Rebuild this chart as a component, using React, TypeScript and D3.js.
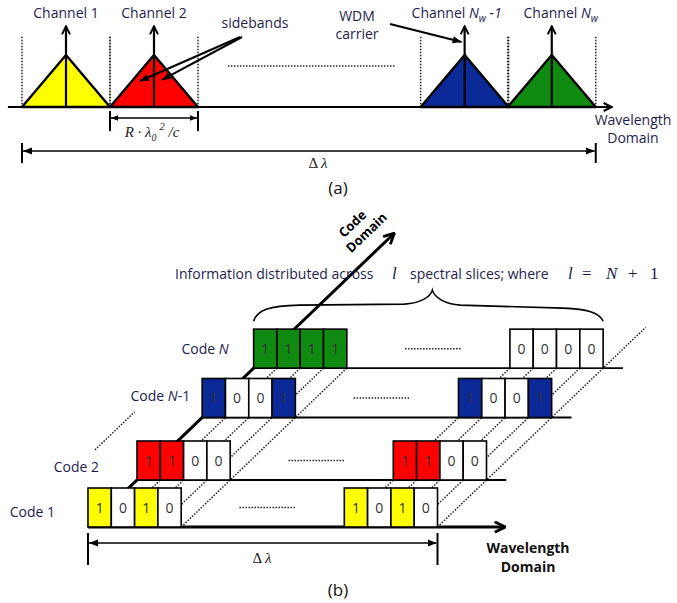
import React from 'react'
import * as d3 from 'd3'

// ---- (a) wavelength spectrum ----
const channelLabels = ['Channel 1', 'Channel 2', 'Channel N_w -1', 'Channel N_w']
const channelSlots = [0, 1, 4.53, 5.52]
const channelColors = ['#ffff00', '#ff0000', '#0b2a98', '#118a11']

// ---- (b) code rows ----
const codeLabels = ['Code 1', 'Code 2', 'Code N-1', 'Code N']
const codeDepths = [0, 1, 2.33, 3.38]
const leftBits = [[1, 0, 1, 0], [1, 1, 0, 0], [1, 0, 0, 1], [1, 1, 1, 1]]
const rightBits = [[1, 0, 1, 0], [1, 1, 0, 0], [1, 0, 0, 1], [0, 0, 0, 0]]
const codeColors = ['#ffff00', '#ff0000', '#0b2a98', '#118a11']
const leftSlots = [0, 1, 2, 3]
const rightSlots = [11, 12, 13, 14]
const sliceBounds = [1, 2, 3, 4, 11, 12, 13, 14, 15]

const W = 677
const H = 603
const ink = '#1d1d4d'
const sans = '"Open Sans", Lato, sans-serif'
const serif = '"Liberation Serif", "DejaVu Serif", serif'
const fs = 14

// label nudges (layout only)
const channelShift = [0, 0, -8, 9]
const codeLabelGap = [33, 38, 12, 25]
const codeLabelDy = [9.5, 11.5, 3.5, 5.5]

function ChannelLabel({ text, x, y }: { text: string; x: number; y: number }) {
  const m = text.match(/^(Channel )N_(\w)(.*)$/)
  if (!m) {
    return <text x={x} y={y} textAnchor="middle" fill={ink} fontSize={fs} fontFamily={sans}>{text}</text>
  }
  return (
    <text x={x} y={y} textAnchor="middle" fill={ink} fontSize={fs} fontFamily={sans}>
      {m[1]}
      <tspan fontStyle="italic">N</tspan>
      <tspan fontStyle="italic" fontSize={10} dy={4}>{m[2]}</tspan>
      <tspan fontStyle="italic" dy={-4}>{m[3]}</tspan>
    </text>
  )
}

function CodeLabel({ text, x, y }: { text: string; x: number; y: number }) {
  const parts = text.split(/(N)/)
  return (
    <text x={x} y={y} textAnchor="end" fill={ink} fontSize={fs} fontFamily={sans}>
      {parts.map((p, i) => p === 'N'
        ? <tspan key={i} fontStyle="italic">N</tspan>
        : <tspan key={i}>{p}</tspan>)}
    </text>
  )
}

export default function App() {
  // (a) scales
  const xA = d3.scaleLinear().domain([0, 1]).range([66, 154])
  const yA = d3.scaleLinear().domain([0, 1]).range([107, 55])
  const halfW = 44
  const base = yA(0)
  const line = d3.line<[number, number]>()

  const chX = channelSlots.map(s => xA(s))
  const firstEdge = chX[0] - halfW
  const lastEdge = chX[chX.length - 1] + halfW

  // (b) scales
  const xB = d3.scaleLinear().domain([0, 1]).range([88, 111.3])
  const depthX = d3.scaleLinear().domain([0, 1]).range([0, 49])
  const depthY = d3.scaleLinear().domain([0, 1]).range([527, 480])
  const rowH = 39
  const pt = (slot: number, depth: number, lift = 0): [number, number] =>
    [xB(slot) + depthX(depth), depthY(depth) - lift]
  const boxW = xB(1) - xB(0)
  const topDepth = codeDepths[codeDepths.length - 1]

  // brace over top row
  const [bx0, by0] = pt(0, topDepth, rowH + 8)
  const [bx1] = pt(15, topDepth, rowH + 8)
  const bm = (bx0 + bx1) / 2 + 4
  const bracePath = d3.path()
  bracePath.moveTo(bx0, by0)
  bracePath.bezierCurveTo(bx0 + 4, by0 - 12, bx0 + 16, by0 - 15, bx0 + 46, by0 - 16)
  bracePath.lineTo(bm - 28, by0 - 17)
  bracePath.bezierCurveTo(bm - 12, by0 - 18, bm - 2, by0 - 24, bm, by0 - 31)
  bracePath.bezierCurveTo(bm + 2, by0 - 24, bm + 12, by0 - 17, bm + 28, by0 - 16)
  bracePath.lineTo(bx1 - 40, by0 - 13)
  bracePath.bezierCurveTo(bx1 - 16, by0 - 12, bx1 - 4, by0 - 9, bx1, by0)

  const axisTip = pt(0, 6.25)
  const dLy = depthY(0) + 16

  return (
    <svg width={W} height={H} style={{ position: 'absolute', left: 0, top: 0, background: '#fff' }}>
      <defs>
        <marker id="chev" viewBox="0 0 10 10" refX="9" refY="5" markerWidth="10" markerHeight="10"
          markerUnits="userSpaceOnUse" orient="auto-start-reverse">
          <path d="M1,1L9,5L1,9" fill="none" stroke="#000" strokeWidth={2} />
        </marker>
        <marker id="tri" viewBox="0 0 10 10" refX="10" refY="5" markerWidth="9" markerHeight="9"
          markerUnits="userSpaceOnUse" orient="auto-start-reverse">
          <path d="M0,1L10,5L0,9z" fill="#000" />
        </marker>
        <marker id="triS" viewBox="0 0 10 10" refX="10" refY="5" markerWidth="7" markerHeight="7"
          markerUnits="userSpaceOnUse" orient="auto-start-reverse">
          <path d="M0,1L10,5L0,9z" fill="#000" />
        </marker>
        <marker id="big" viewBox="0 0 10 10" refX="9" refY="5" markerWidth="13" markerHeight="13"
          markerUnits="userSpaceOnUse" orient="auto">
          <path d="M1,1L9,5L1,9" fill="none" stroke="#000" strokeWidth={2.2} />
        </marker>
      </defs>

      {/* ================= (a) ================= */}
      {chX.map((x, i) => (
        <g key={'dv' + i}>
          {[x - halfW, x + halfW].map((dx, j) => (
            <line key={j} x1={dx} x2={dx} y1={yA(1.35)} y2={base} stroke="#222" strokeWidth={1.5} strokeDasharray="1.5 1.5" />
          ))}
        </g>
      ))}
      {chX.map((x, i) => (
        <path key={'tr' + i}
          d={line([[x - halfW, base], [x, yA(1)], [x + halfW, base]])! + 'Z'}
          fill={channelColors[i]} stroke="#000" strokeWidth={2.4} strokeLinejoin="round" />
      ))}
      <line x1={xA(-0.66)} x2={xA(6.2)} y1={base} y2={base} stroke="#000" strokeWidth={2} markerEnd="url(#chev)" />
      {chX.map((x, i) => (
        <line key={'cr' + i} x1={x} x2={x} y1={base} y2={yA(1.55)} stroke="#000" strokeWidth={2.2} markerEnd="url(#chev)" />
      ))}
      {channelLabels.map((t, i) => (
        <ChannelLabel key={'cl' + i} text={t} x={chX[i] + channelShift[i]} y={18} />
      ))}

      {/* dotted gap */}
      <line x1={xA(1.84)} x2={xA(3.74)} y1={yA(0.79)} y2={yA(0.79)} stroke="#222" strokeWidth={1.5} strokeDasharray="1.5 1.5" />

      {/* sidebands */}
      <text x={255} y={28} textAnchor="middle" fill={ink} fontSize={fs} fontFamily={sans}>sidebands</text>
      <line x1={240} y1={37} x2={chX[1] - 14} y2={yA(0.5)} stroke="#000" strokeWidth={2} markerEnd="url(#tri)" />
      <line x1={242} y1={37} x2={chX[1] + 8} y2={yA(0.52)} stroke="#000" strokeWidth={2} markerEnd="url(#tri)" />

      {/* WDM carrier */}
      <text x={357} y={21} textAnchor="middle" fill={ink} fontSize={fs} fontFamily={sans}>WDM</text>
      <text x={357} y={39} textAnchor="middle" fill={ink} fontSize={fs} fontFamily={sans}>carrier</text>
      <line x1={390} y1={24} x2={chX[2] - 3} y2={yA(1.25)} stroke="#000" strokeWidth={2} markerEnd="url(#tri)" />

      {/* R lambda^2 / c bracket */}
      {[chX[1] - halfW, chX[1] + halfW].map((x, j) => (
        <line key={'rt' + j} x1={x} x2={x} y1={base + 4} y2={base + 24} stroke="#000" strokeWidth={2} />
      ))}
      <line x1={chX[1] - halfW + 1} x2={chX[1] + halfW - 1} y1={base + 11} y2={base + 11} stroke="#000" strokeWidth={1.6}
        markerStart="url(#triS)" markerEnd="url(#triS)" />
      <text x={chX[1] - 2} y={base + 30} textAnchor="middle" fontFamily={serif} fontStyle="italic" fontSize={15} fill="#222">
        R · λ<tspan fontSize={10} dy={4}>0</tspan><tspan fontSize={11} dy={-11}> 2</tspan><tspan dy={7}> /c</tspan>
      </text>

      {/* delta lambda span */}
      {[firstEdge, lastEdge].map((x, j) => (
        <line key={'dt' + j} x1={x} x2={x} y1={base + 36} y2={base + 56} stroke="#000" strokeWidth={2} />
      ))}
      <line x1={firstEdge + 1} x2={lastEdge - 1} y1={base + 44} y2={base + 44} stroke="#000" strokeWidth={1.6}
        markerStart="url(#tri)" markerEnd="url(#tri)" />
      <text x={318} y={base + 61} textAnchor="middle" fontFamily={serif} fontSize={15} fill="#222">
        Δ <tspan fontStyle="italic">λ</tspan>
      </text>

      <text x={633} y={125} textAnchor="middle" fill={ink} fontSize={fs} fontFamily={sans}>Wavelength</text>
      <text x={633} y={143} textAnchor="middle" fill={ink} fontSize={fs} fontFamily={sans}>Domain</text>
      <text x={338} y={194} textAnchor="middle" fill="#111" fontSize={17} fontFamily={sans}>(a)</text>

      {/* ================= (b) ================= */}
      {/* spectral slice guides */}
      {sliceBounds.map(s => {
        const end = s === 15 ? 4.25 : topDepth
        const a = pt(s, 0)
        const b = pt(s, end)
        return <line key={'sg' + s} x1={a[0]} y1={a[1]} x2={b[0]} y2={b[1]} stroke="#222" strokeWidth={1.5} strokeDasharray="1.5 1.5" />
      })}
      {/* code axis */}
      <line x1={pt(0, 0)[0]} y1={pt(0, 0)[1]} x2={axisTip[0]} y2={axisTip[1]} stroke="#000" strokeWidth={3} markerEnd="url(#big)" />
      <g transform={`translate(${axisTip[0] - 33},${axisTip[1] - 6}) rotate(-44)`}>
        <text x={-4} y={-4} textAnchor="middle" fontFamily={sans} fontWeight="bold" fontSize={13} fill="#000">Code</text>
        <text x={0} y={12} textAnchor="middle" fontFamily={sans} fontWeight="bold" fontSize={13} fill="#000">Domain</text>
      </g>

      {/* diagonal ellipsis between rows */}
      <line x1={pt(-3.15, 1.64)[0]} y1={pt(-3.15, 1.64)[1]} x2={pt(-3.15, 2.45)[0]} y2={pt(-3.15, 2.45)[1]}
        stroke="#222" strokeWidth={1.5} strokeDasharray="1.5 1.5" />

      {codeDepths.map((d, r) => {
        const [x0, y0] = pt(0, d)
        const endSlot = r === 0 ? 17.9 : 15.85
        const [xe] = pt(endSlot, d)
        const [ex0, ey] = pt(6.5, d, rowH / 2)
        const [ex1] = pt(8.9, d, rowH / 2)
        const cells = [
          ...leftSlots.map((s, k) => ({ s, b: leftBits[r][k] })),
          ...rightSlots.map((s, k) => ({ s, b: rightBits[r][k] })),
        ]
        return (
          <g key={'row' + r}>
            <line x1={x0} x2={xe} y1={y0} y2={y0} stroke="#000" strokeWidth={r === 0 ? 3 : 1.8}
              markerEnd={r === 0 ? 'url(#big)' : undefined} />
            {cells.map(({ s, b }) => {
              const [cx, cy] = pt(s, d, rowH)
              return (
                <g key={s}>
                  <rect x={cx} y={cy} width={boxW} height={rowH} fill={b ? codeColors[r] : '#fff'} stroke="#000" strokeWidth={1.6} />
                  <text x={cx + boxW / 2} y={cy + rowH / 2 + 5} textAnchor="middle" fontFamily={sans} fontSize={14} fill="#333">{b}</text>
                </g>
              )
            })}
            <line x1={ex0} x2={ex1} y1={ey} y2={ey} stroke="#222" strokeWidth={1.5} strokeDasharray="1.5 1.5" />
            <CodeLabel text={codeLabels[r]} x={x0 - codeLabelGap[r]} y={y0 - rowH / 2 + codeLabelDy[r]} />
          </g>
        )
      })}

      {/* brace + caption */}
      <path d={bracePath.toString()} fill="none" stroke="#000" strokeWidth={1.6} />
      <g fill={ink} fontSize={fs} fontFamily={sans}>
        <text x={175} y={279}>Information distributed across</text>
        <text x={392} y={279} fontFamily={serif} fontStyle="italic" fontSize={17}>l</text>
        <text x={410} y={279}>spectral slices; where</text>
        <text x={568} y={279} fontFamily={serif} fontStyle="italic" fontSize={17}>l</text>
        <text x={582} y={279} fontFamily={serif} fontSize={17}>=</text>
        <text x={606} y={279} fontFamily={serif} fontStyle="italic" fontSize={17}>N</text>
        <text x={628} y={279} fontFamily={serif} fontSize={17}>+</text>
        <text x={650} y={279} fontFamily={serif} fontSize={17}>1</text>
      </g>

      {/* delta lambda (b) */}
      {[0, 15].map(s => (
        <line key={'bt' + s} x1={xB(s)} x2={xB(s)} y1={dLy - 10} y2={dLy + 22} stroke="#000" strokeWidth={2} />
      ))}
      <line x1={xB(0) + 1} x2={xB(15) - 1} y1={dLy} y2={dLy} stroke="#000" strokeWidth={1.6}
        markerStart="url(#tri)" markerEnd="url(#tri)" />
      <text x={262} y={dLy + 20} textAnchor="middle" fontFamily={serif} fontSize={15} fill="#222">
        Δ <tspan fontStyle="italic">λ</tspan>
      </text>

      <text x={528} y={553} textAnchor="middle" fill="#111" fontSize={14} fontWeight="bold" fontFamily={sans}>Wavelength</text>
      <text x={528} y={572} textAnchor="middle" fill="#111" fontSize={14} fontWeight="bold" fontFamily={sans}>Domain</text>
      <text x={338} y={596} textAnchor="middle" fill="#111" fontSize={17} fontFamily={sans}>(b)</text>
    </svg>
  )
}
